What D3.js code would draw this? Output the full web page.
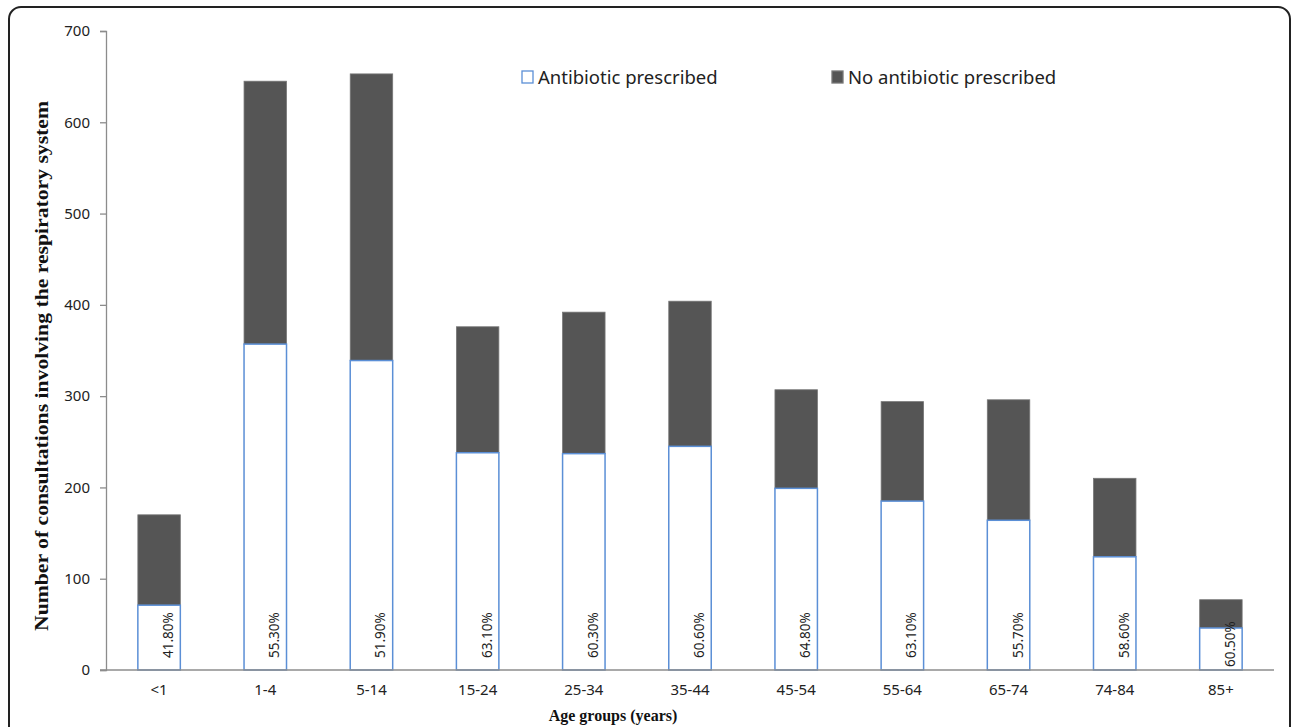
<!DOCTYPE html>
<html>
<head>
<meta charset="utf-8">
<script src="https://cdn.jsdelivr.net/npm/d3@7"></script>
<style>
    body { margin: 0; background: #fff; }
    svg { display: block; }
</style>
</head>
<body>
<div id="chart"></div>
<script>

// values
const ageGroups = ['<1', '1-4', '5-14', '15-24', '25-34', '35-44', '45-54', '55-64', '65-74', '74-84', '85+']
const antibiotic = [71, 357, 339, 238, 237, 245, 199, 185, 164, 124, 46]
const noAntibiotic = [99, 288, 314, 138, 155, 159, 108, 109, 132, 86, 31]
const pctLabels = ['41.80%', '55.30%', '51.90%', '63.10%', '60.30%', '60.60%', '64.80%', '63.10%', '55.70%', '58.60%', '60.50%']
const yTicks = [0, 100, 200, 300, 400, 500, 600, 700]
const seriesNames = ['Antibiotic prescribed', 'No antibiotic prescribed']

const fullWidth = 1292
const fullHeight = 727

var margin = { top: 31, right: 18, bottom: 57, left: 106 },
    width = fullWidth - margin.left - margin.right,
    height = fullHeight - margin.top - margin.bottom;

const svg0 = d3.select('#chart')
    .append('svg')
    .attr('width', fullWidth)
    .attr('height', fullHeight)

// rounded frame around the figure
svg0.append('rect')
    .attr('x', 9)
    .attr('y', 7)
    .attr('width', 1281)
    .attr('height', 740)
    .attr('rx', 12)
    .attr('fill', 'none')
    .attr('stroke', '#222')
    .attr('stroke-width', 2)

const svg = svg0.append('g')
    .attr('transform', 'translate(' + margin.left + ',' + margin.top + ')')

const data = ageGroups.map((g, i) => ({
    group: g,
    abx: antibiotic[i],
    noAbx: noAntibiotic[i],
    label: pctLabels[i]
}))

var x = d3.scaleBand()
    .domain(ageGroups)
    .range([0, width])
    .paddingInner(0.6)
    .paddingOuter(0.3)

var y = d3.scaleLinear()
    .domain([0, 700])
    .range([height, 0])

// y axis
const yAxis = svg.append('g')
    .attr('class', 'y-axis')
    .call(d3.axisLeft(y).tickValues(yTicks).tickSize(6).tickPadding(10))
yAxis.select('.domain').attr('stroke', '#8c8c8c').attr('stroke-width', 1.3)
yAxis.selectAll('.tick line').attr('stroke', '#8c8c8c').attr('stroke-width', 1.3)
yAxis.selectAll('.tick text')
    .attr('font-family', 'Noto Sans, sans-serif')
    .attr('font-size', 15)
    .attr('fill', '#222')

// stacked bars
const bars = svg.append('g').attr('class', 'bars')

bars.selectAll('.noabx')
    .data(data)
    .enter()
    .append('rect')
    .attr('class', 'noabx')
    .attr('x', d => x(d.group))
    .attr('y', d => y(d.abx + d.noAbx))
    .attr('width', x.bandwidth())
    .attr('height', d => y(d.abx) - y(d.abx + d.noAbx))
    .attr('fill', '#555555')
    .attr('stroke', '#777')
    .attr('stroke-width', 0.8)

bars.selectAll('.abx')
    .data(data)
    .enter()
    .append('rect')
    .attr('class', 'abx')
    .attr('x', d => x(d.group))
    .attr('y', d => y(d.abx))
    .attr('width', x.bandwidth())
    .attr('height', d => y(0) - y(d.abx))
    .attr('fill', '#fff')
    .attr('stroke', '#5b8fd6')
    .attr('stroke-width', 1.5)

// percentage labels, rotated
bars.selectAll('.pct')
    .data(data)
    .enter()
    .append('text')
    .attr('class', 'pct')
    .attr('transform', d => 'translate(' + (x(d.group) + x.bandwidth() / 2 + 14) + ',' + (y(0) - (d.group == '85+' ? 3 : 12)) + ') rotate(-90)')
    .attr('text-anchor', 'start')
    .attr('font-family', 'Noto Sans, sans-serif')
    .attr('font-size', 13.5)
    .attr('fill', '#222')
    .text(d => d.label)

// x axis
const xAxis = svg.append('g')
    .attr('class', 'x-axis')
    .attr('transform', 'translate(0,' + height + ')')
    .call(d3.axisBottom(x).tickSize(0).tickPadding(14))
xAxis.select('.domain').attr('stroke', '#8c8c8c').attr('stroke-width', 1.5)
    .attr('d', 'M-6,0H' + width)
xAxis.selectAll('.tick text')
    .attr('font-family', 'Noto Sans, sans-serif')
    .attr('font-size', 15)
    .attr('fill', '#222')

// axis titles
svg0.append('text')
    .attr('transform', 'translate(48,' + (margin.top + 335) + ') rotate(-90)')
    .attr('text-anchor', 'middle')
    .attr('font-family', 'Liberation Serif, serif')
    .attr('font-weight', 'bold')
    .attr('font-size', 18)
    .attr('textLength', 530)
    .attr('lengthAdjust', 'spacingAndGlyphs')
    .attr('fill', '#111')
    .text('Number of consultations involving the respiratory system')

svg0.append('text')
    .attr('x', 613)
    .attr('y', 721)
    .attr('text-anchor', 'middle')
    .attr('font-family', 'Liberation Serif, serif')
    .attr('font-weight', 'bold')
    .attr('font-size', 16)
    .attr('fill', '#111')
    .text('Age groups (years)')

// legend
const legendX = [522, 832]
const legend = svg0.append('g').attr('class', 'legend')
legend.selectAll('rect')
    .data(seriesNames)
    .enter()
    .append('rect')
    .attr('x', (d, i) => legendX[i])
    .attr('y', 71)
    .attr('width', 11)
    .attr('height', 12)
    .attr('fill', (d, i) => i == 0 ? '#fff' : '#555555')
    .attr('stroke', (d, i) => i == 0 ? '#5b8fd6' : '#777')
    .attr('stroke-width', 1.3)

legend.selectAll('text')
    .data(seriesNames)
    .enter()
    .append('text')
    .attr('x', (d, i) => legendX[i] + 16)
    .attr('y', 84)
    .attr('font-family', 'Noto Sans, sans-serif')
    .attr('font-size', 18.5)
    .attr('fill', '#222')
    .text(d => d)

</script>
</body>
</html>
